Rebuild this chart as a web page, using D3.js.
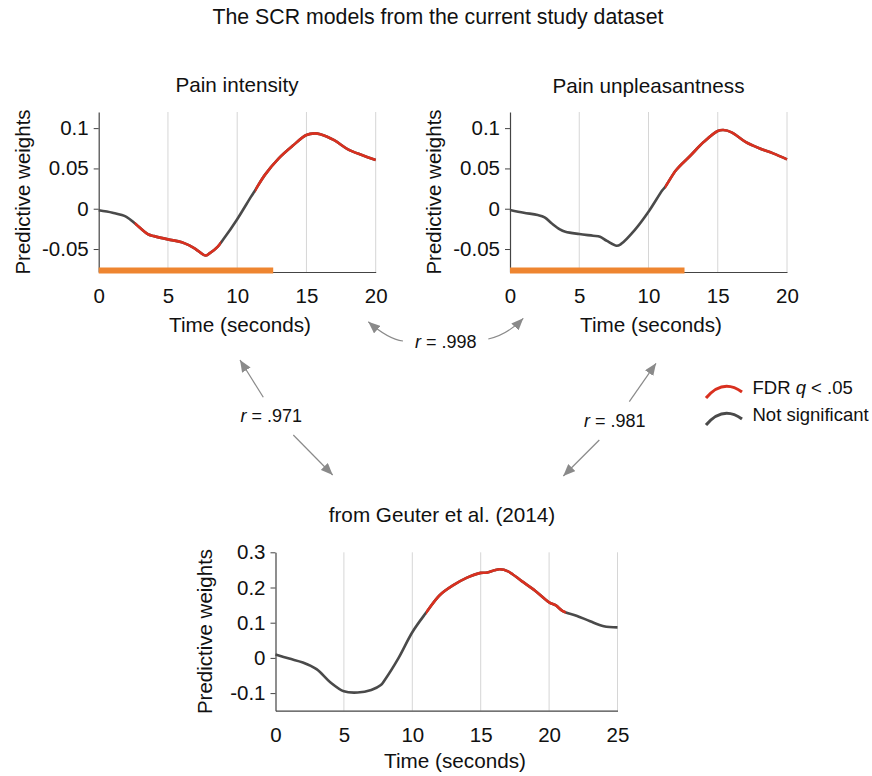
<!DOCTYPE html>
<html>
<head>
<meta charset="utf-8">
<script src="https://cdn.jsdelivr.net/npm/d3@7"></script>
<style>
  body { margin: 0; background: #fff; }
  text { font-family: "Liberation Sans", Arial, Helvetica, sans-serif; fill: #111; }
</style>
</head>
<body>
<div id="chart"></div>
<script>
// ---- data ----
// Pain intensity model (current study)
var intensityTime   = [0, 1, 2, 2.6, 3, 3.6, 4, 5, 6, 6.6, 7, 7.7, 8, 8.6, 9, 10, 11, 11.3, 12, 13, 14, 15, 15.6, 16, 17, 18, 19, 20];
var intensityWeight = [-0.002, -0.005, -0.010, -0.018, -0.024, -0.032, -0.034, -0.038, -0.0415, -0.046, -0.050, -0.058, -0.0555, -0.047, -0.038, -0.013, 0.015, 0.023, 0.042, 0.0625, 0.078, 0.0914, 0.0935, 0.0925, 0.085, 0.0737, 0.0666, 0.0604];
var intensitySig    = [[2.6, 8.6], [11.3, 20]];

// Pain unpleasantness model (current study)
var unpleasTime   = [0, 1, 2, 2.5, 3, 3.6, 4, 5, 6, 6.5, 7, 7.7, 8, 9, 10, 11, 11.2, 12, 13, 14, 15, 15.4, 16, 17, 18, 19, 20];
var unpleasWeight = [-0.0016, -0.005, -0.0078, -0.0107, -0.018, -0.0256, -0.0285, -0.0314, -0.0335, -0.0347, -0.04, -0.046, -0.044, -0.0265, -0.0037, 0.023, 0.027, 0.048, 0.0654, 0.083, 0.0964, 0.0976, 0.0948, 0.083, 0.075, 0.0687, 0.0613];
var unpleasSig    = [[11.2, 20]];

// Geuter et al. (2014) model
var geuterTime   = [0, 1, 2, 3, 4, 5, 6, 7, 7.7, 8, 9, 10, 11, 12, 13, 14, 15, 15.5, 16, 16.4, 17, 18, 19, 20, 20.5, 21, 22, 23, 24, 25];
var geuterWeight = [0.0097, -0.002, -0.013, -0.032, -0.069, -0.095, -0.0985, -0.091, -0.077, -0.062, 0.0, 0.073, 0.128, 0.178, 0.2065, 0.228, 0.2415, 0.2425, 0.249, 0.252, 0.246, 0.218, 0.19, 0.158, 0.149, 0.133, 0.12, 0.104, 0.09, 0.0866];
var geuterSig    = [[11, 21]];

// orange bar span (seconds)
var barSpan = [0, 12.6];

// ticks
var xTicksTop = [0, 5, 10, 15, 20];
var xTicksBottom = [0, 5, 10, 15, 20, 25];
var yTicksTop = [-0.05, 0, 0.05, 0.1];
var yTickLabelsTop = ["-0.05", "0", "0.05", "0.1"];
var yTicksBottom = [-0.1, 0, 0.1, 0.2, 0.3];
var yTickLabelsBottom = ["-0.1", "0", "0.1", "0.2", "0.3"];

var correlations = [".998", ".971", ".981"];

// ---- styling ----
var RED = "#d9301f", GRAY = "#4a4a4a", ORANGE = "#ee8530", GRID = "#d6d6d6", AXIS = "#444", ARROW = "#8a8a8a";

var svg = d3.select("#chart")
  .append("svg")
  .attr("width", 872)
  .attr("height", 776);

svg.append("defs").append("marker")
  .attr("id", "head")
  .attr("viewBox", "0 0 12 10")
  .attr("refX", 12).attr("refY", 5)
  .attr("markerWidth", 12).attr("markerHeight", 10)
  .attr("markerUnits", "userSpaceOnUse")
  .attr("orient", "auto")
  .append("path")
  .attr("d", "M0,0L12,5L0,10z")
  .attr("fill", ARROW);

svg.append("text")
  .attr("x", 438).attr("y", 24)
  .attr("text-anchor", "middle")
  .attr("font-size", "21.3px")
  .text("The SCR models from the current study dataset");

var panelCount = 0;

function drawPanel(p) {
  panelCount++;
  var x = d3.scaleLinear().domain(p.xDomain).range([p.left, p.right]);
  var y = d3.scaleLinear().domain(p.yDomain).range([p.bottom, p.top]);
  var g = svg.append("g");

  // vertical gridlines
  g.selectAll(".grid")
    .data(p.xTicks.filter(function(d) { return d > p.xDomain[0]; }))
    .enter().append("line")
    .attr("x1", function(d) { return x(d); })
    .attr("x2", function(d) { return x(d); })
    .attr("y1", p.top).attr("y2", p.bottom)
    .attr("stroke", GRID).attr("stroke-width", 1);

  // x axis
  var xAxis = g.append("g")
    .attr("transform", "translate(0," + p.bottom + ")")
    .call(d3.axisBottom(x).tickValues(p.xTicks).tickFormat(d3.format("d")).tickSize(0).tickPadding(16.5));
  xAxis.select(".domain").attr("stroke", AXIS).attr("stroke-width", 1.2);
  xAxis.selectAll("text").attr("font-size", "20.5px").attr("fill", "#1a1a1a");

  // y axis
  var yAxis = g.append("g")
    .attr("transform", "translate(" + p.left + ",0)")
    .call(d3.axisLeft(y).tickValues(p.yTicks)
      .tickFormat(function(d, i) { return p.yLabels[i]; })
      .tickSize(5).tickPadding(5).tickSizeOuter(0));
  yAxis.select(".domain").attr("stroke", AXIS).attr("stroke-width", 1.2);
  yAxis.selectAll(".tick line").attr("stroke", AXIS);
  yAxis.selectAll("text").attr("font-size", "20.5px").attr("fill", "#1a1a1a");

  // orange bar
  if (p.bar) {
    g.append("rect")
      .attr("x", x(p.bar[0]))
      .attr("width", x(p.bar[1]) - x(p.bar[0]))
      .attr("y", p.bottom - 4.5)
      .attr("height", 6)
      .attr("fill", ORANGE);
  }

  var pts = p.time.map(function(t, i) { return [t, p.weight[i]]; });
  var line = d3.line()
    .x(function(d) { return x(d[0]); })
    .y(function(d) { return y(d[1]); })
    .curve(d3.curveCatmullRom.alpha(0.5));

  g.append("path")
    .datum(pts)
    .attr("d", line)
    .attr("fill", "none")
    .attr("stroke", GRAY)
    .attr("stroke-width", 2.6)
    .attr("stroke-linejoin", "round");

  var clipId = "sig" + panelCount;
  svg.select("defs").append("clipPath").attr("id", clipId)
    .selectAll("rect")
    .data(p.sig)
    .enter().append("rect")
    .attr("x", function(d) { return x(d[0]); })
    .attr("width", function(d) { return x(d[1]) - x(d[0]) + 3; })
    .attr("y", p.top - 10)
    .attr("height", p.bottom - p.top + 20);

  g.append("path")
    .datum(pts)
    .attr("d", line)
    .attr("fill", "none")
    .attr("stroke", RED)
    .attr("stroke-width", 2.6)
    .attr("stroke-linejoin", "round")
    .attr("clip-path", "url(#" + clipId + ")");

  // titles and labels
  g.append("text")
    .attr("x", p.titleX).attr("y", p.titleY)
    .attr("text-anchor", "middle")
    .attr("font-size", "20.7px")
    .text(p.title);

  g.append("text")
    .attr("x", p.xLabelX).attr("y", p.xLabelY)
    .attr("text-anchor", "middle")
    .attr("font-size", "20.7px")
    .text("Time (seconds)");

  g.append("text")
    .attr("transform", "translate(" + (p.left - p.yLabelOff) + "," + ((p.top + p.bottom) / 2) + ") rotate(-90)")
    .attr("text-anchor", "middle")
    .attr("font-size", "20.5px")
    .text("Predictive weights");
}

drawPanel({
  time: intensityTime, weight: intensityWeight, sig: intensitySig, bar: barSpan,
  xDomain: [0, 20], yDomain: [-0.0785, 0.12], xTicks: xTicksTop, yTicks: yTicksTop, yLabels: yTickLabelsTop,
  left: 98.7, right: 375.7, top: 112, bottom: 272,
  title: "Pain intensity", titleX: 237, titleY: 92,
  xLabelX: 240, xLabelY: 332, yLabelOff: 69
});

drawPanel({
  time: unpleasTime, weight: unpleasWeight, sig: unpleasSig, bar: barSpan,
  xDomain: [0, 20], yDomain: [-0.0785, 0.12], xTicks: xTicksTop, yTicks: yTicksTop, yLabels: yTickLabelsTop,
  left: 510, right: 787, top: 112, bottom: 272,
  title: "Pain unpleasantness", titleX: 648.5, titleY: 93,
  xLabelX: 651, xLabelY: 332, yLabelOff: 69
});

drawPanel({
  time: geuterTime, weight: geuterWeight, sig: geuterSig, bar: null,
  xDomain: [0, 25], yDomain: [-0.15, 0.3], xTicks: xTicksBottom, yTicks: yTicksBottom, yLabels: yTickLabelsBottom,
  left: 275.5, right: 617.5, top: 552.3, bottom: 710.7,
  title: "from Geuter et al. (2014)", titleX: 442, titleY: 522,
  xLabelX: 455, xLabelY: 768, yLabelOff: 64
});

// ---- correlation arrows ----
var arrows = [
  "M403,341 Q388,339 368.3,321.7",
  "M488.3,339 Q507,335 523.3,318.3",
  "M263.3,397.3 L240,360",
  "M293.3,435 L332.7,475",
  "M629.3,401.7 L656,363.3",
  "M599.3,440 L563.3,476"
];
svg.selectAll(".arrow")
  .data(arrows)
  .enter().append("path")
  .attr("d", function(d) { return d; })
  .attr("fill", "none")
  .attr("stroke", ARROW)
  .attr("stroke-width", 1.2)
  .attr("marker-end", "url(#head)");

var rPos = [[415, 348], [240.5, 422], [584, 427]];
correlations.forEach(function(r, i) {
  var t = svg.append("text")
    .attr("x", rPos[i][0]).attr("y", rPos[i][1])
    .attr("font-size", "18px");
  t.append("tspan").attr("font-style", "italic").text("r");
  t.append("tspan").text(" = " + r);
});

// ---- legend ----
var legend = [
  { label: "FDR ", q: true, color: RED },
  { label: "Not significant", q: false, color: GRAY }
];
legend.forEach(function(d, i) {
  var dy = i * 27;
  svg.append("path")
    .attr("d", "M706," + (398 + dy) + " Q723," + (378 + dy) + " 742," + (392 + dy))
    .attr("fill", "none")
    .attr("stroke", d.color)
    .attr("stroke-width", 3);
  var t = svg.append("text")
    .attr("x", 752.5).attr("y", 394 + dy)
    .attr("font-size", "18.5px");
  t.append("tspan").text(d.label);
  if (d.q) {
    t.append("tspan").attr("font-style", "italic").text("q");
    t.append("tspan").text(" < .05");
  }
});
</script>
</body>
</html>
